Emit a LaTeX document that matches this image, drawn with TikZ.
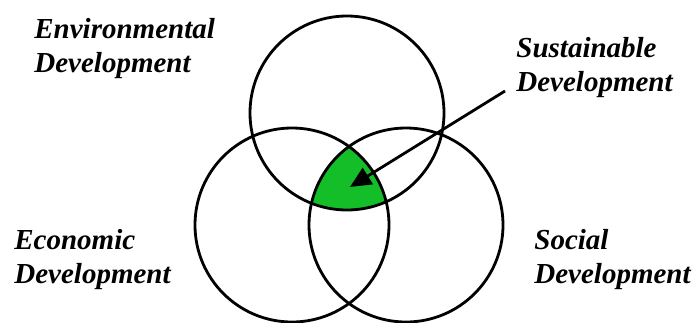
\documentclass[tikz,border=0pt]{standalone}
\usepackage{fontspec}
\setmainfont{Liberation Serif}
\usepackage{tikz}
\usetikzlibrary{arrows.meta, positioning}
\definecolor{coregreen}{HTML}{14BE28}

\begin{document}
\begin{tikzpicture}[x=1pt, y=-1pt, line width=2.8pt,
    lbl/.style={anchor=base west, align=left, inner sep=0pt,
      font=\fontsize{29}{34}\selectfont\bfseries\itshape}]
  \useasboundingbox (0,0) rectangle (692,322);
  % three pillars
  \coordinate (env) at (347,113);
  \coordinate (eco) at (292,225);
  \coordinate (soc) at (406,225);
  % the common core
  \begin{scope}
    \clip (env) circle (97);
    \clip (eco) circle (97);
    \fill[coregreen] (soc) circle (97);
  \end{scope}
  \draw (env) circle (97);
  \draw (eco) circle (97);
  \draw (soc) circle (97);
  % labels (placed by the baseline of their last line)
  \node[lbl] (envlbl) at (33,72) {Environmental\\Development};
  \node[lbl] (ecolbl) at (13,283) {Economic\\Development};
  \node[lbl] (soclbl) at (533,283) {Social\\Development};
  \node[lbl] (suslbl) at (515,91) {Sustainable\\Development};
  % pointer
  \coordinate (tail) at (505,91);
  \coordinate (core) at (350,187);
  \draw[-{Triangle[length=21pt, width=19pt]}] (tail) -- (core);
\end{tikzpicture}
\end{document}
